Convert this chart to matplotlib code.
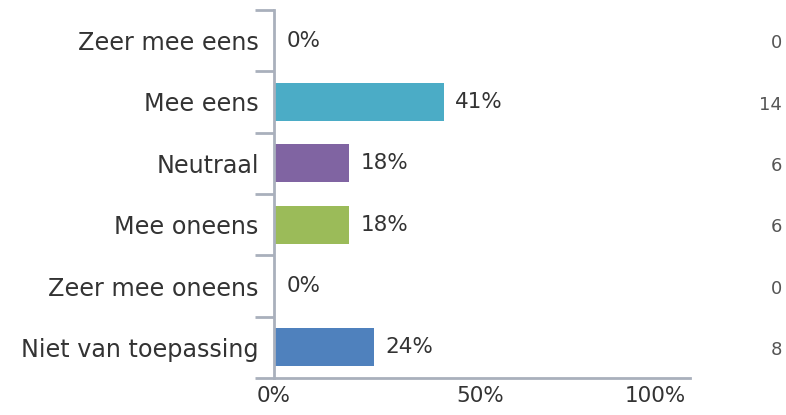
import numpy as np
import matplotlib.pyplot as plt

categories = ['Zeer mee eens', 'Mee eens', 'Neutraal', 'Mee oneens',
              'Zeer mee oneens', 'Niet van toepassing']
percent = [0, 41, 18, 18, 0, 24]
counts = [0, 14, 6, 6, 0, 8]
colors = ['#4BACC6', '#4BACC6', '#8064A2', '#9BBB59', '#4BACC6', '#4F81BD']
xtick_labels = ['0%', '50%', '100%']

axis_col = '#A9B0BC'
txt_col = '#333333'

fig = plt.figure(figsize=(7.86, 4.15), dpi=100)
ax = fig.add_axes([0.3486, 0.089, 0.5295, 0.887])

y = np.arange(len(categories))
vals = np.array(percent) / 100
ax.barh(y, vals, height=0.62, color=colors, left=0.003)
ax.set_ylim(len(categories) - 0.5, -0.5)
ax.set_xlim(0, 1.01)

for i, v in enumerate(vals):
    ax.text(v + 0.03, y[i], f'{percent[i]}%', va='center', ha='left',
            fontsize=15.5, color=txt_col)

# counts column on the right
for i, c in enumerate(counts):
    ax.annotate(str(c), xy=(1.0, y[i]), xycoords=('figure fraction', 'data'),
                xytext=(-3, -2), textcoords='offset points',
                ha='right', va='center', fontsize=13, color='#555555')

ax.set_yticks(y)
ax.set_yticklabels(categories, fontsize=17.2, color=txt_col)
ax.set_yticks(np.arange(len(categories) + 1) - 0.5, minor=True)
ax.tick_params(axis='y', which='major', length=0, pad=11)
ax.tick_params(axis='y', which='minor', length=14, width=2, color=axis_col)

ax.set_xticks([0, 0.5, 1.0])
ax.set_xticklabels(xtick_labels, fontsize=15.5, color=txt_col)
ax.tick_params(axis='x', length=0, pad=6)
ax.get_xticklabels()[-1].set_ha('right')
ax.get_xticklabels()[-1].set_x(1.0)

for s in ['top', 'right']:
    ax.spines[s].set_visible(False)
for s in ['left', 'bottom']:
    ax.spines[s].set_color(axis_col)
    ax.spines[s].set_linewidth(2)

fig.savefig('out.png', dpi=100)
